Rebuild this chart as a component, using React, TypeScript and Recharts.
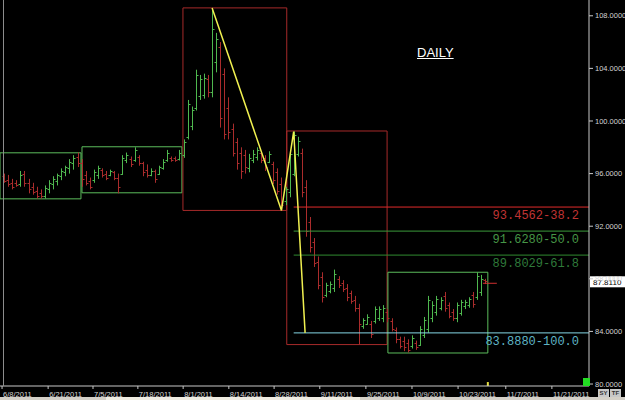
import React from "react";
import {
  ComposedChart,
  Bar,
  Line,
  XAxis,
  YAxis,
  ReferenceArea,
  ReferenceLine,
} from "recharts";

// daily OHLC, one entry per slot starting at slot 1
const FIRST_SLOT = 1;
const opens = [
  95.8, 95.5, 95.3, 95.3, 95.2, 96.0, 95.3, 95.0, 94.7, 94.5,
  94.3, 94.8, 95.2, 95.4, 95.8, 96.1, 96.4, 96.8, 97.3, 96.8,
  95.9, 95.4, 95.5, 95.9, 96.3, 96.0, 95.9, 96.1, 95.7, 96.0,
  97.0, 97.1, 97.0, 97.3, 96.8, 96.3, 95.9, 96.2, 96.0, 96.4,
  97.0, 97.2, 97.2, 97.1, 97.4, 98.8, 99.6, 101.0, 101.9, 102.0,
  103.2, 102.2, 104.5, 105.6, 103.6, 101.0, 99.4, 98.4, 97.6, 97.4,
  96.4, 97.0, 97.3, 97.6, 97.2, 96.9, 96.7, 96.1, 95.2, 93.9,
  94.6, 96.0, 97.5, 97.6, 95.0, 92.3, 90.8, 89.3, 88.1, 86.8,
  87.1, 87.3, 88.0, 87.7, 87.3, 86.9, 86.4, 85.8, 84.4, 84.6,
  84.6, 84.8, 85.0, 85.0, 85.5, 84.8, 84.1, 83.4, 83.3, 83.1,
  82.9, 83.1, 83.0, 83.7, 84.2, 85.0, 85.5, 85.8, 86.7, 86.0,
  85.5, 85.0, 85.4, 85.9, 86.0, 86.8, 86.6, 87.0, 87.9,
];
const highs = [
  96.0, 95.9, 95.6, 95.5, 96.2, 96.2, 95.6, 95.3, 95.0, 94.8,
  95.1, 95.5, 95.8, 96.0, 96.4, 96.6, 97.1, 97.4, 97.6, 97.1,
  96.2, 95.7, 96.3, 96.6, 96.4, 96.2, 96.3, 96.2, 96.0, 97.4,
  97.6, 97.3, 98.0, 97.4, 96.9, 96.7, 96.4, 96.3, 96.6, 97.1,
  97.8, 97.3, 97.3, 97.8, 98.6, 101.6, 101.1, 103.9, 103.5, 103.6,
  103.5, 108.6, 106.7, 106.0, 104.0, 101.8, 99.8, 98.7, 98.0, 97.8,
  97.5, 97.8, 98.0, 97.7, 97.4, 97.7, 96.9, 96.4, 95.7, 95.0,
  97.8, 99.2, 98.8, 97.9, 95.5, 92.7, 91.1, 89.7, 88.5, 87.7,
  87.8, 88.7, 88.2, 87.9, 87.6, 87.1, 86.7, 86.1, 85.0, 85.3,
  84.8, 85.9, 85.9, 86.0, 85.7, 85.0, 84.3, 83.6, 83.6, 83.4,
  83.7, 83.3, 84.4, 85.1, 86.7, 86.3, 86.7, 86.6, 87.0, 86.2,
  85.7, 86.2, 86.4, 86.4, 86.6, 87.0, 88.5, 88.3, 88.0,
];
const lows = [
  95.3, 95.0, 94.8, 95.0, 95.0, 95.0, 94.5, 94.4, 94.1, 94.1,
  94.1, 94.5, 94.8, 95.1, 95.5, 95.8, 96.0, 96.3, 96.5, 95.0,
  95.1, 94.8, 95.3, 95.6, 95.7, 95.5, 95.8, 95.5, 94.5, 95.9,
  96.8, 96.5, 96.9, 96.6, 95.8, 95.7, 95.8, 95.3, 95.9, 96.3,
  96.9, 96.9, 96.9, 97.0, 97.2, 98.6, 99.3, 100.8, 101.6, 101.7,
  101.8, 101.8, 103.7, 99.5, 98.6, 98.6, 97.3, 96.3, 95.6, 96.0,
  96.1, 96.8, 97.0, 96.8, 96.2, 96.8, 95.2, 94.4, 93.2, 93.6,
  94.2, 95.8, 97.3, 94.2, 91.2, 90.0, 88.9, 87.2, 86.2, 86.6,
  86.9, 87.0, 87.3, 87.0, 86.3, 86.1, 85.5, 83.0, 84.2, 84.5,
  83.5, 84.6, 84.8, 84.7, 84.7, 84.0, 83.1, 82.7, 82.5, 82.4,
  82.7, 82.6, 82.9, 83.5, 83.9, 84.7, 85.2, 85.6, 85.5, 85.0,
  84.8, 84.7, 85.2, 85.7, 85.8, 85.8, 86.4, 86.7, 87.6,
];
const closes = [
  95.4, 95.2, 95.0, 95.1, 95.9, 95.3, 94.8, 94.6, 94.3, 94.3,
  94.9, 95.3, 95.6, 95.9, 96.2, 96.5, 96.9, 97.2, 96.8, 95.6,
  95.3, 95.0, 96.1, 96.4, 95.9, 95.7, 96.2, 95.7, 95.0, 97.2,
  97.4, 96.7, 97.8, 96.8, 96.1, 95.9, 96.2, 95.6, 96.5, 96.9,
  97.6, 97.0, 97.0, 97.6, 98.4, 101.3, 100.8, 103.5, 103.2, 103.3,
  102.2, 107.0, 106.2, 100.2, 99.0, 99.2, 97.6, 96.8, 96.2, 96.5,
  97.2, 97.5, 97.8, 97.0, 96.5, 97.5, 95.5, 94.7, 93.6, 94.8,
  97.5, 98.9, 98.5, 94.6, 91.6, 90.4, 89.2, 87.5, 86.6, 87.5,
  87.6, 88.4, 87.5, 87.2, 86.6, 86.3, 85.8, 84.6, 84.9, 85.1,
  83.8, 85.7, 85.7, 85.8, 85.0, 84.2, 83.4, 82.9, 82.8, 82.6,
  83.5, 82.8, 84.2, 84.9, 86.4, 86.0, 86.5, 86.4, 85.8, 85.2,
  85.0, 86.0, 86.2, 86.2, 86.5, 86.1, 88.2, 88.0, 87.811,
];

const tickSlots = [0.5, 11.8, 22.8, 33.8, 44.9, 56.1, 67.2, 78.4, 89.7, 101, 112.3, 124, 135.3];
const tickLabels = [
  "6/8/2011", "6/21/2011", "7/5/2011", "7/18/2011", "8/1/2011", "8/14/2011", "8/28/2011",
  "9/11/2011", "9/25/2011", "10/9/2011", "10/23/2011", "11/7/2011", "11/21/2011",
];
const priceTicks = [80, 84, 88, 92, 96, 100, 104, 108];

// range boxes
const boxStart = [0, 20.1, 44.85, 70.3, 95.1];
const boxEnd = [19.85, 44.6, 70.3, 94.9, 119.6];
const boxLow = [94.08, 94.54, 93.2, 83.0, 82.36];
const boxHigh = [97.58, 98.04, 108.6, 99.24, 88.5];
const boxColor = ["#5cbc5c", "#5cbc5c", "#a62a2a", "#a62a2a", "#5cbc5c"];

// swing zigzag
const zigSlots = [52, 69, 72, 74.8];
const zigPrices = [108.6, 93.2, 99.2, 83.888];

// fib levels
const fibFrom = 72;
const fibLevels = [93.4562, 91.628, 89.8029, 83.888];
const fibTexts = ["93.4562-38.2", "91.6280-50.0", "89.8029-61.8", "83.8880-100.0"];
const fibLineColor = ["#e02a2a", "#3b9b3b", "#2f8a2f", "#86d8e6"];
const fibTextColor = ["#c03434", "#469646", "#2f7a3a", "#5fb4c4"];

const X_MAX = 144.4;
const Y_MIN = 79.85;
const Y_MAX = 109.2;
const UP = "#4fb84f";
const DOWN = "#aa2c2c";
const FONT = "Liberation Sans, Arial, sans-serif";

const bars = opens.map((o, i) => ({
  slot: FIRST_SLOT + i,
  o,
  h: highs[i],
  l: lows[i],
  c: closes[i],
}));
const zig = zigSlots.map((s, i) => ({ slot: s, v: zigPrices[i] }));
const lastSlot = FIRST_SLOT + closes.length - 1;
const lastPrice = closes[closes.length - 1];

const OhlcShape = (props: any) => {
  const { x, y, width, height, payload } = props;
  if (x == null || y == null) return null;
  const cx = Math.round(x + width / 2) + 0.5;
  const top = Math.min(y, y + height);
  const h = Math.abs(height);
  const span = payload.h - payload.l || 1;
  const yo = Math.round(top + ((payload.h - payload.o) / span) * h) + 0.5;
  const yc = Math.round(top + ((payload.h - payload.c) / span) * h) + 0.5;
  const col = payload.c >= payload.o ? UP : DOWN;
  return (
    <g stroke={col} strokeWidth={1}>
      <line x1={cx} x2={cx} y1={top} y2={top + h} />
      <line x1={cx - 2} x2={cx} y1={yo} y2={yo} />
      <line x1={cx} x2={cx + 2} y1={yc} y2={yc} />
    </g>
  );
};

const DateTick = (p: any) => {
  const i = tickSlots.indexOf(p.payload.value);
  return (
    <text x={p.x + 1} y={p.y} dy={6.5} fontSize={7.5} fill="#d4d4d4" fontFamily={FONT} textAnchor="start">
      {tickLabels[i]}
    </text>
  );
};

export default function App() {
  return (
    <div
      style={{
        position: "fixed",
        left: 0,
        top: 0,
        width: 625,
        height: 400,
        background: "#000",
        overflow: "hidden",
      }}
    >
      <ComposedChart width={625} height={400} data={bars} margin={{ top: 0, right: 0, bottom: 0, left: 0 }}>
        <XAxis
          type="number"
          dataKey="slot"
          domain={[0, X_MAX]}
          allowDataOverflow
          ticks={tickSlots}
          interval={0}
          height={14}
          tickSize={3}
          tickMargin={1}
          axisLine={{ stroke: "#c8c8c8" }}
          tickLine={{ stroke: "#c8c8c8" }}
          tick={<DateTick />}
        />
        <YAxis
          orientation="right"
          domain={[Y_MIN, Y_MAX]}
          allowDataOverflow
          ticks={priceTicks}
          interval={0}
          width={36}
          tickSize={4}
          tickMargin={2}
          axisLine={{ stroke: "#c8c8c8" }}
          tickLine={{ stroke: "#c8c8c8" }}
          tick={{ fill: "#d4d4d4", fontSize: 7.5, fontFamily: FONT }}
          tickFormatter={(v: number) => v.toFixed(4)}
        />
        {boxStart.map((s, i) => (
          <ReferenceArea
            key={"box" + i}
            x1={s}
            x2={boxEnd[i]}
            y1={boxLow[i]}
            y2={boxHigh[i]}
            fill="none"
            fillOpacity={0}
            stroke={boxColor[i]}
            strokeWidth={1}
            ifOverflow="visible"
          />
        ))}
        <Bar dataKey={(d: any) => [d.l, d.h]} shape={<OhlcShape />} isAnimationActive={false} />
        {fibLevels.map((lv, i) => (
          <ReferenceLine
            key={"fib" + i}
            segment={[
              { x: fibFrom, y: lv },
              { x: X_MAX, y: lv },
            ]}
            stroke={fibLineColor[i]}
            strokeWidth={1}
            ifOverflow="visible"
            label={(p: any) => (
              <text
                x={p.viewBox.x + p.viewBox.width - 10}
                y={p.viewBox.y + 12}
                textAnchor="end"
                fontSize={12}
                fontFamily="Liberation Mono, monospace"
                fill={fibTextColor[i]}
              >
                {fibTexts[i]}
              </text>
            )}
          />
        ))}
        <Line
          data={zig}
          dataKey="v"
          type="linear"
          stroke="#f0f050"
          strokeWidth={1.5}
          dot={false}
          activeDot={false}
          isAnimationActive={false}
        />
        <ReferenceLine
          segment={[
            { x: lastSlot - 0.6, y: lastPrice - 0.15 },
            { x: lastSlot + 2.8, y: lastPrice - 0.15 },
          ]}
          stroke="#d03030"
          ifOverflow="visible"
        />
        <ReferenceLine
          segment={[
            { x: lastSlot + 0.6, y: Y_MIN },
            { x: lastSlot + 0.6, y: Y_MIN + 0.3 },
          ]}
          stroke="#e8e040"
          strokeWidth={2}
          ifOverflow="visible"
        />
        <ReferenceLine
          y={lastPrice}
          stroke="none"
          ifOverflow="visible"
          label={(p: any) => (
            <g>
              <rect x={p.viewBox.x + p.viewBox.width + 1} y={p.viewBox.y - 5} width={35} height={11} fill="#ffffff" />
              <text
                x={p.viewBox.x + p.viewBox.width + 4}
                y={p.viewBox.y + 3.5}
                fontSize={8}
                fontFamily={FONT}
                fill="#000"
              >
                {lastPrice.toFixed(4)}
              </text>
            </g>
          )}
        />
      </ComposedChart>
      <div style={{ position: "absolute", left: 3, top: 0, width: 1, height: 386, background: "#8c8c8c" }} />
      <div
        style={{
          position: "absolute",
          left: 417,
          top: 45,
          color: "#fff",
          fontFamily: FONT,
          fontSize: 13,
          textDecoration: "underline",
        }}
      >
        DAILY
      </div>
      <div style={{ position: "absolute", left: 583, top: 378, width: 7, height: 8, background: "#22dd22" }} />
      <div
        style={{
          position: "absolute",
          left: 598,
          top: 389,
          display: "flex",
          gap: 1,
          fontFamily: FONT,
          fontSize: 6,
          fontWeight: "bold",
          color: "#333",
        }}
      >
        <span style={{ background: "#c8c8c8", width: 11, height: 8, textAlign: "center", lineHeight: "8px" }}>SY</span>
        <span style={{ background: "#c8c8c8", width: 11, height: 8, textAlign: "center", lineHeight: "8px" }}>TF</span>
      </div>
      <div style={{ position: "absolute", left: 0, top: 397, width: 625, height: 3, background: "#d4d0c8" }} />
      <div style={{ position: "absolute", left: 106, top: 397, width: 254, height: 3, background: "#efece2" }} />
    </div>
  );
}
